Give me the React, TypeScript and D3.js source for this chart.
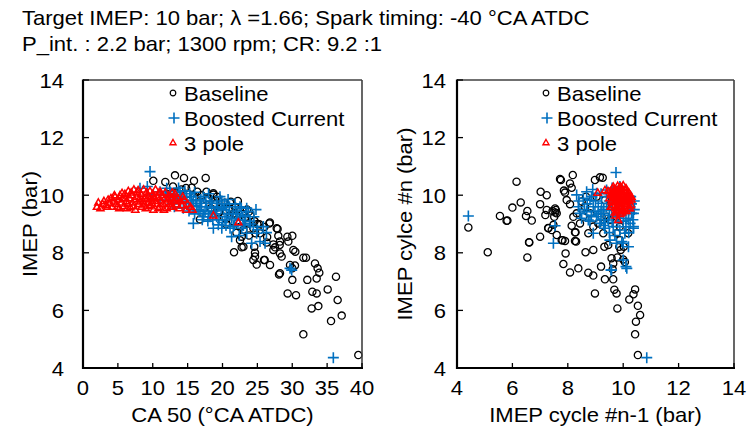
import React from "react";
import * as d3 from "d3";

// ---------- data ----------
const titleLines = [
  "Target IMEP: 10 bar; λ =1.66; Spark timing: -40 °CA ATDC",
  "P_int. : 2.2 bar; 1300 rpm; CR: 9.2 :1",
];
const seriesNames = ["Baseline", "Boosted Current", "3 pole"];
const xTicksLeft = [0, 5, 10, 15, 20, 25, 30, 35, 40];
const xTicksRight = [4, 6, 8, 10, 12, 14];
const yTicks = [4, 6, 8, 10, 12, 14];

// Left: CA50 (°CA ATDC) vs IMEP (bar)
const leftBaseline: [number, number][] = [
  [10.08, 10.5], [11.8, 10.46], [13.19, 10.69], [14.48, 10.6], [15.91, 10.5], [17.59, 10.6],
  [14.77, 10.25], [15.58, 10.26], [16.39, 10.12], [18.69, 10.02], [17.73, 9.83], [18.97, 9.83],
  [20.36, 9.74], [21.08, 9.74], [21.79, 9.6], [16.77, 9.16], [22.89, 9.35], [23.23, 9.2],
  [23.7, 9.02], [25.28, 8.99], [26.71, 9.02], [27.77, 8.85], [24.42, 8.85], [25.38, 8.68],
  [24.71, 8.68], [30.01, 8.59], [28.0, 8.59], [29.44, 8.39], [28.24, 8.39], [27.29, 8.29],
  [26.33, 8.36], [22.51, 8.44], [22.75, 8.19], [21.65, 8.02], [24.56, 8.21], [24.66, 8.0],
  [24.66, 7.87], [24.42, 7.75], [24.9, 7.59], [25.95, 7.75], [26.81, 7.58], [28.24, 7.98],
  [28.48, 7.87], [27.29, 8.1], [27.53, 8.19], [30.16, 8.1], [30.44, 8.04], [31.59, 7.83],
  [31.97, 7.83], [33.26, 7.63], [33.64, 7.46], [33.88, 7.31], [33.5, 7.11], [28.24, 7.29],
  [28.1, 7.25], [29.68, 7.58], [30.01, 7.46], [30.39, 7.56], [30.01, 7.06], [32.16, 7.06],
  [29.34, 6.59], [30.54, 6.53], [32.88, 6.65], [33.5, 6.59], [35.08, 6.73], [36.27, 7.17],
  [36.51, 6.36], [32.78, 6.07], [33.74, 6.15], [35.56, 5.63], [37.09, 5.82], [31.59, 5.17],
  [39.47, 4.45], [17.7, 10.12], [18.7, 10.07], [21.2, 9.77], [21.6, 9.37], [23.8, 9.43],
  [26.8, 9.05], [27.9, 8.83], [22.75, 8.56], [23.0, 8.21], [28.2, 8.27], [29.3, 8.56],
  [26.05, 7.75], [18.0, 9.9], [19.0, 9.7], [20.0, 9.6], [21.0, 9.5], [22.0, 9.3],
  [19.5, 9.4], [21.5, 9.1], [20.5, 9.0], [22.5, 8.9], [23.5, 9.5], [17.0, 10.0],
  [16.0, 9.95], [15.0, 10.05], [13.0, 10.1], [12.0, 10.05], [23.0, 8.8], [22.0, 8.7],
  [24.0, 9.3], [25.0, 9.0], [26.0, 8.9], [23.8, 8.6], [20.2, 9.25], [19.2, 9.95],
  [22.2, 9.8], [24.6, 9.1], [18.3, 9.55], [12.9, 10.3], [14.1, 10.2], [26.4, 8.55],
];
const leftBoosted: [number, number][] = [
  [9.61, 10.82], [8.17, 10.24], [9.22, 10.3], [11.04, 10.12], [12.0, 10.24], [12.47, 10.12],
  [13.43, 10.01], [13.91, 10.12], [14.86, 9.95], [15.82, 9.83], [16.77, 9.72], [17.73, 9.6],
  [18.21, 9.72], [19.16, 9.72], [20.12, 9.49], [20.6, 9.6], [22.5, 9.6], [23.7, 9.43],
  [21.55, 9.37], [15.82, 9.02], [17.25, 9.25], [18.69, 8.85], [19.4, 8.97], [21.08, 8.85],
  [21.31, 8.56], [22.75, 8.85], [23.47, 8.68], [24.42, 8.91], [24.18, 8.33], [25.38, 8.39],
  [26.1, 8.33], [25.85, 8.91], [29.68, 7.46], [29.92, 7.4], [35.89, 4.36], [15.1, 9.6],
  [16.5, 9.49], [18.0, 9.37], [19.16, 9.25], [20.36, 9.14], [22.0, 9.14], [23.2, 9.02],
  [19.64, 9.95], [15.58, 9.72], [12.95, 9.83], [11.04, 9.83], [10.08, 10.01], [18.21, 9.25],
  [21.55, 8.91], [24.9, 8.68], [22.5, 9.14], [23.47, 9.55], [20.6, 9.25], [17.25, 9.95],
  [16.77, 9.43], [18.45, 9.55], [13.91, 9.72], [14.38, 9.55], [14.2, 9.9], [15.3, 10.05],
  [16.2, 9.8], [17.0, 9.6], [18.9, 9.45], [19.9, 9.8], [20.9, 9.35], [21.8, 9.7],
  [22.9, 9.25], [12.3, 9.95], [13.1, 9.6], [16.0, 9.35], [17.6, 9.8], [19.3, 9.6],
  [20.5, 8.95], [21.9, 9.45], [23.9, 9.1], [17.9, 9.1], [14.6, 10.15], [11.8, 10.0],
  [12.5, 10.05], [13.5, 9.9], [14.0, 9.75], [14.8, 9.8], [15.5, 9.95], [16.3, 9.65],
  [16.9, 9.85], [17.5, 9.45], [18.5, 9.8], [19.0, 9.35], [19.8, 9.55], [20.3, 9.7],
  [21.0, 9.6], [21.3, 9.2], [22.2, 9.35], [22.7, 9.55], [23.3, 9.3], [24.0, 9.0],
  [24.5, 9.25], [25.0, 8.8], [23.0, 8.95], [20.0, 9.05], [19.5, 9.15], [18.6, 9.15],
  [17.3, 9.35], [15.2, 9.45], [16.0, 10.1], [13.7, 10.25], [12.8, 9.7], [21.7, 8.95],
  [20.8, 9.85], [18.0, 10.05], [24.8, 9.5], [26.3, 8.7], [22.4, 8.6], [19.9, 8.85],
  [15.8, 9.6], [17.1, 9.15],
];
const leftPole: [number, number][] = [
  [2.0, 9.6], [2.2, 9.75], [2.8, 9.7], [3.0, 9.8], [3.3, 9.65], [3.6, 9.85], [3.8, 9.72],
  [4.0, 9.9], [4.2, 9.6], [4.4, 9.78], [4.6, 9.95], [4.8, 9.7], [5.0, 9.85], [5.2, 9.55],
  [5.3, 10.0], [5.5, 9.75], [5.7, 9.9], [5.9, 9.62], [6.0, 10.05], [6.2, 9.8], [6.4, 9.7],
  [6.5, 10.15], [6.7, 9.9], [6.8, 9.58], [7.0, 10.0], [7.1, 9.75], [7.3, 10.2], [7.4, 9.85],
  [7.5, 9.5], [7.7, 9.95], [7.8, 10.1], [8.0, 9.7], [8.1, 9.88], [8.3, 10.05], [8.4, 9.6],
  [8.6, 9.8], [8.7, 10.2], [8.9, 9.92], [9.0, 9.55], [9.1, 10.1], [9.3, 9.75], [9.4, 9.98],
  [9.6, 10.15], [9.7, 9.65], [9.8, 9.85], [10.0, 10.05], [10.1, 9.5], [10.3, 9.9], [10.4, 10.2],
  [10.6, 9.7], [10.7, 9.95], [10.9, 10.1], [11.0, 9.6], [11.2, 9.82], [11.3, 10.0], [11.5, 9.7],
  [11.7, 9.9], [11.8, 10.1], [12.0, 9.55], [12.2, 9.85], [12.3, 10.0], [12.5, 9.7], [12.7, 9.92],
  [12.9, 9.6], [13.0, 9.8], [13.2, 10.05], [13.4, 9.68], [13.6, 9.9], [13.8, 9.55], [14.0, 9.8],
  [14.2, 9.65], [14.5, 9.85], [14.8, 9.5], [15.0, 9.7], [15.4, 9.6], [15.7, 9.5], [3.5, 9.6],
  [4.5, 10.0], [5.6, 10.08], [6.3, 9.55], [7.2, 9.62], [7.9, 10.18], [8.8, 9.68], [9.2, 9.88],
  [9.9, 9.72], [10.5, 9.8], [11.1, 10.12], [11.9, 9.75], [12.6, 9.6], [13.3, 9.85], [2.5, 9.55],
  [4.9, 9.6], [6.1, 9.9], [6.9, 10.1], [8.2, 9.78], [9.5, 9.62], [10.2, 9.95], [10.8, 9.55],
  [11.6, 9.5], [12.8, 10.1], [14.3, 9.95], [18.69, 9.3], [22.27, 9.06],
];

// Right: IMEP cycle n-1 vs IMEP cycle n (bar)
const rightBaseline: [number, number][] = [
  [4.41, 8.88], [5.11, 8.02], [5.55, 9.28], [5.82, 9.12], [6.0, 9.57], [6.15, 10.47],
  [6.3, 9.75], [6.54, 9.45], [6.49, 9.28], [6.7, 9.12], [6.61, 8.36], [6.54, 7.84],
  [7.0, 9.69], [7.02, 10.12], [7.24, 10.0], [7.24, 9.49], [7.19, 9.31], [7.0, 8.56],
  [7.3, 8.85], [7.54, 9.54], [7.57, 9.49], [7.6, 9.37], [7.51, 9.25], [7.48, 8.97],
  [7.6, 8.62], [7.72, 10.56], [7.86, 10.16], [7.81, 8.44], [7.92, 7.98], [7.84, 7.61],
  [8.08, 7.32], [8.18, 10.7], [8.08, 10.41], [8.14, 10.26], [7.96, 9.83], [8.08, 9.69],
  [8.14, 8.94], [8.26, 8.71], [8.3, 8.39], [8.38, 7.46], [8.64, 8.02], [8.44, 9.02],
  [8.56, 9.25], [8.74, 8.68], [8.74, 7.31], [8.92, 7.21], [8.98, 6.59], [8.92, 8.1],
  [8.98, 10.53], [9.16, 10.62], [9.26, 10.61], [9.34, 9.83], [9.28, 8.68], [9.32, 8.21],
  [9.2, 7.52], [9.34, 7.08], [9.46, 8.27], [9.58, 7.81], [9.64, 7.63], [9.62, 7.43],
  [9.68, 6.72], [9.76, 6.59], [9.79, 6.07], [9.64, 7.08], [9.79, 7.84], [9.86, 8.21],
  [9.91, 8.1], [10.0, 7.77], [10.06, 7.68], [10.18, 8.68], [10.22, 6.38], [10.37, 6.56],
  [10.43, 6.73], [10.53, 6.16], [10.46, 5.61], [10.61, 5.84], [10.43, 5.17], [10.53, 4.45],
  [9.88, 8.91], [9.76, 8.68], [9.58, 9.6], [9.52, 9.14], [8.92, 8.91], [8.8, 9.37],
  [8.62, 9.6], [8.32, 9.37], [8.5, 9.78], [8.2, 9.25], [8.66, 9.95], [9.04, 9.95],
  [9.22, 9.25], [9.4, 9.25], [9.1, 9.02], [9.76, 9.25], [9.88, 8.44], [10.02, 8.21],
  [5.79, 9.11], [6.6, 8.37], [7.29, 8.86], [7.42, 8.79], [7.75, 10.53], [7.9, 10.09],
  [7.78, 8.44], [7.9, 8.41], [8.26, 8.41], [8.28, 8.71], [7.45, 9.45], [7.55, 9.4],
];
const rightBoosted: [number, number][] = [
  [4.41, 9.28], [7.48, 8.33], [7.54, 8.94], [9.74, 10.79], [9.58, 7.4], [10.13, 7.46],
  [10.85, 4.36], [8.32, 10.01], [8.44, 9.37], [8.68, 10.12], [8.8, 9.83], [8.92, 9.6],
  [8.74, 9.14], [9.04, 9.25], [9.16, 9.02], [9.34, 8.85], [9.22, 9.72], [9.4, 9.95],
  [9.58, 9.49], [9.76, 9.25], [9.88, 8.79], [10.06, 8.68], [10.25, 9.02], [10.37, 9.37],
  [10.25, 9.6], [10.27, 9.95], [10.13, 10.07], [9.88, 10.3], [9.7, 10.07], [9.4, 10.18],
  [9.04, 10.07], [8.86, 9.95], [8.56, 9.89], [9.52, 8.44], [9.76, 8.33], [9.64, 8.91],
  [9.95, 8.39], [10.0, 7.75], [10.19, 9.14], [10.37, 8.91], [8.92, 8.68], [9.28, 9.37],
  [9.46, 9.14], [8.38, 9.6], [8.68, 9.43], [8.98, 9.43], [9.88, 9.72], [10.0, 9.43],
  [10.1, 7.52], [9.56, 7.4], [10.3, 9.37], [10.37, 8.85], [10.0, 8.33], [10.19, 8.21],
  [9.1, 9.6], [9.3, 9.5], [9.5, 9.8], [9.2, 9.15], [8.85, 9.3], [9.6, 9.05],
  [8.4, 9.8], [8.6, 9.5], [8.8, 9.1], [9.0, 9.8], [9.2, 9.45], [9.4, 9.6],
  [9.5, 9.3], [9.6, 9.7], [9.7, 9.5], [9.8, 9.05], [9.9, 9.3], [10.1, 9.2],
  [10.2, 9.45], [10.3, 9.7], [10.35, 9.15], [10.4, 9.5], [9.3, 8.95], [9.5, 8.7],
  [9.7, 8.6], [10.1, 8.9], [8.9, 10.2], [9.2, 10.05], [9.6, 10.25], [10.4, 9.8],
  [8.7, 9.7], [9.1, 9.35], [9.35, 9.05], [10.0, 9.1], [10.2, 8.7], [8.5, 9.2],
];
const rightPole: [number, number][] = [
  [9.9, 9.9], [9.85, 9.95], [9.95, 9.85], [9.8, 10.0], [10.0, 9.8], [9.75, 9.9], [10.05, 9.95],
  [9.9, 10.1], [9.88, 9.7], [9.7, 9.75], [10.1, 9.85], [9.95, 10.15], [9.82, 10.2], [10.02, 10.05],
  [9.65, 9.95], [10.15, 9.7], [9.92, 9.6], [9.78, 9.6], [10.08, 9.62], [9.6, 9.85], [10.2, 9.9],
  [9.7, 10.12], [10.12, 10.12], [9.87, 10.25], [9.55, 10.05], [10.25, 10.0], [9.98, 9.5],
  [9.83, 9.5], [10.18, 9.55], [9.62, 9.65], [9.9, 9.8], [9.8, 9.82], [10.0, 9.98], [9.93, 10.02],
  [9.85, 9.88], [9.74, 10.05], [10.06, 9.75], [9.68, 10.2], [10.1, 10.25], [9.9, 10.3],
  [10.22, 9.8], [9.58, 9.78], [10.28, 9.65], [9.96, 9.4], [9.76, 9.45], [10.05, 9.45],
  [9.5, 9.9], [10.3, 9.85], [9.45, 10.15], [9.64, 10.3], [10.0, 10.35], [9.8, 10.33],
  [9.87, 9.55], [10.14, 9.95], [9.72, 9.55], [9.94, 9.72], [9.84, 9.78], [10.04, 9.88],
  [9.66, 10.08], [10.16, 10.05], [9.08, 10.09], [9.34, 10.18], [9.62, 10.24], [9.82, 9.14],
  [9.72, 9.3], [9.9, 9.35], [9.75, 10.15], [10.08, 10.18], [10.2, 10.1], [9.6, 10.0],
  [10.25, 9.55], [9.55, 9.6], [10.12, 9.45], [9.7, 9.4], [9.95, 10.25], [10.3, 9.95],
];

// ---------- layout ----------
const W = 748;
const H = 434;
const FONT = "'Liberation Sans', Arial, sans-serif";
const FS = 21;
const SX = 1.05; // slight horizontal stretch of the reference lettering
const BLUE = "#0070C0";
const RED = "#FF0000";

const yScale = d3.scaleLinear().domain([4, 14]).range([368, 80]);
const xLeft = d3.scaleLinear().domain([0, 40]).range([83, 362]);
const xRight = d3.scaleLinear().domain([4, 14]).range([457, 734]);

const circlePath = d3.symbol().type(d3.symbolCircle).size(Math.PI * 3.6 * 3.6)()!;
const circleSmall = d3.symbol().type(d3.symbolCircle).size(Math.PI * 2.8 * 2.8)()!;
const trianglePath = d3.symbol().type(d3.symbolTriangle).size(22)()!;
const triangleSmall = d3.symbol().type(d3.symbolTriangle).size(16)()!;
const plus = (r: number) => `M${-r},0H${r}M0,${-r}V${r}`;

function T({ x, y, anchor = "start", rotate = 0, children }: { x: number; y: number; anchor?: string; rotate?: number; children: React.ReactNode }) {
  return (
    <text
      transform={`translate(${x},${y})${rotate ? ` rotate(${rotate})` : ""} scale(${SX},1)`}
      textAnchor={anchor as any}
      fontSize={FS}
      fontFamily={FONT}
      fill="#000"
    >
      {children}
    </text>
  );
}

function Markers({ data, x, kind }: { data: [number, number][]; x: d3.ScaleLinear<number, number>; kind: number }) {
  return (
    <g>
      {data.map(([a, b], i) => {
        const tx = x(a);
        const ty = yScale(b);
        if (kind === 0)
          return <path key={i} d={circlePath} transform={`translate(${tx},${ty})`} fill="none" stroke="#000" strokeWidth={1.3} />;
        if (kind === 1)
          return <path key={i} d={plus(5.5)} transform={`translate(${tx},${ty})`} fill="none" stroke={BLUE} strokeWidth={1.6} />;
        return <path key={i} d={trianglePath} transform={`translate(${tx},${ty + 0.5})`} fill="none" stroke={RED} strokeWidth={1.5} />;
      })}
    </g>
  );
}

function Legend({ mx, tx }: { mx: number; tx: number }) {
  const rows = [93, 118, 143];
  return (
    <g>
      {seriesNames.map((name, i) => (
        <g key={name}>
          {i === 0 && <path d={circleSmall} transform={`translate(${mx},${rows[i]})`} fill="none" stroke="#000" strokeWidth={1.2} />}
          {i === 1 && <path d={plus(5.5)} transform={`translate(${mx + 1},${rows[i]})`} fill="none" stroke={BLUE} strokeWidth={1.6} />}
          {i === 2 && <path d={triangleSmall} transform={`translate(${mx},${rows[i]})`} fill="none" stroke={RED} strokeWidth={1.4} />}
          <T x={tx} y={rows[i] + 7.5}>{name}</T>
        </g>
      ))}
    </g>
  );
}

function Panel({
  x, xTicks, xTitle, yTitle, yTitleX, yLabelX, legendMx, legendTx, children,
}: {
  x: d3.ScaleLinear<number, number>; xTicks: number[]; xTitle: string; yTitle: string;
  yTitleX: number; yLabelX: number; legendMx: number; legendTx: number; children: React.ReactNode;
}) {
  const [x0, x1] = x.range();
  const [y0, y1] = [yScale(4), yScale(14)];
  return (
    <g>
      <rect x={x0} y={y1} width={x1 - x0} height={y0 - y1} fill="#fff" />
      {children}
      <line x1={x0} y1={y1} x2={x1} y2={y1} stroke="#404040" strokeWidth={1.3} />
      <line x1={x1} y1={y1} x2={x1} y2={y0} stroke="#404040" strokeWidth={1.6} />
      <line x1={x0} y1={y1 - 0.5} x2={x0} y2={y0 + 1} stroke="#000" strokeWidth={2.2} />
      <line x1={x0 - 1} y1={y0} x2={x1 + 1} y2={y0} stroke="#000" strokeWidth={2.2} />
      {yTicks.map((t) => (
        <g key={t}>
          <line x1={x0} x2={x0 + 6} y1={yScale(t)} y2={yScale(t)} stroke="#000" strokeWidth={1.3} />
          <T x={yLabelX} y={yScale(t) + 7.5} anchor="end">{t}</T>
        </g>
      ))}
      {xTicks.map((t) => (
        <g key={t}>
          <line x1={x(t)} x2={x(t)} y1={y0} y2={y0 - 5} stroke="#000" strokeWidth={1.3} />
          <T x={x(t)} y={395} anchor="middle">{t}</T>
        </g>
      ))}
      <T x={(x0 + x1) / 2} y={422} anchor="middle">{xTitle}</T>
      <T x={yTitleX} y={(y0 + y1) / 2} anchor="middle" rotate={-90}>{yTitle}</T>
      <Legend mx={legendMx} tx={legendTx} />
    </g>
  );
}

export default function App() {
  return (
    <svg width={W} height={H} viewBox={`0 0 ${W} ${H}`} style={{ position: "absolute", left: 0, top: 0, background: "#fff" }}>
      <rect width={W} height={H} fill="#fff" />
      <T x={22} y={25}>{titleLines[0]}</T>
      <T x={22} y={51}>{titleLines[1]}</T>
      <Panel x={xLeft} xTicks={xTicksLeft} xTitle="CA 50 (°CA ATDC)" yTitle="IMEP (bar)" yTitleX={37} yLabelX={64} legendMx={173} legendTx={184}>
        <Markers data={leftBaseline} x={xLeft} kind={0} />
        <Markers data={leftBoosted} x={xLeft} kind={1} />
        <Markers data={leftPole} x={xLeft} kind={2} />
      </Panel>
      <Panel x={xRight} xTicks={xTicksRight} xTitle="IMEP cycle #n-1 (bar)" yTitle="IMEP cylce #n (bar)" yTitleX={412} yLabelX={446} legendMx={546} legendTx={557}>
        <Markers data={rightBaseline} x={xRight} kind={0} />
        <Markers data={rightBoosted} x={xRight} kind={1} />
        <Markers data={rightPole} x={xRight} kind={2} />
      </Panel>
    </svg>
  );
}
